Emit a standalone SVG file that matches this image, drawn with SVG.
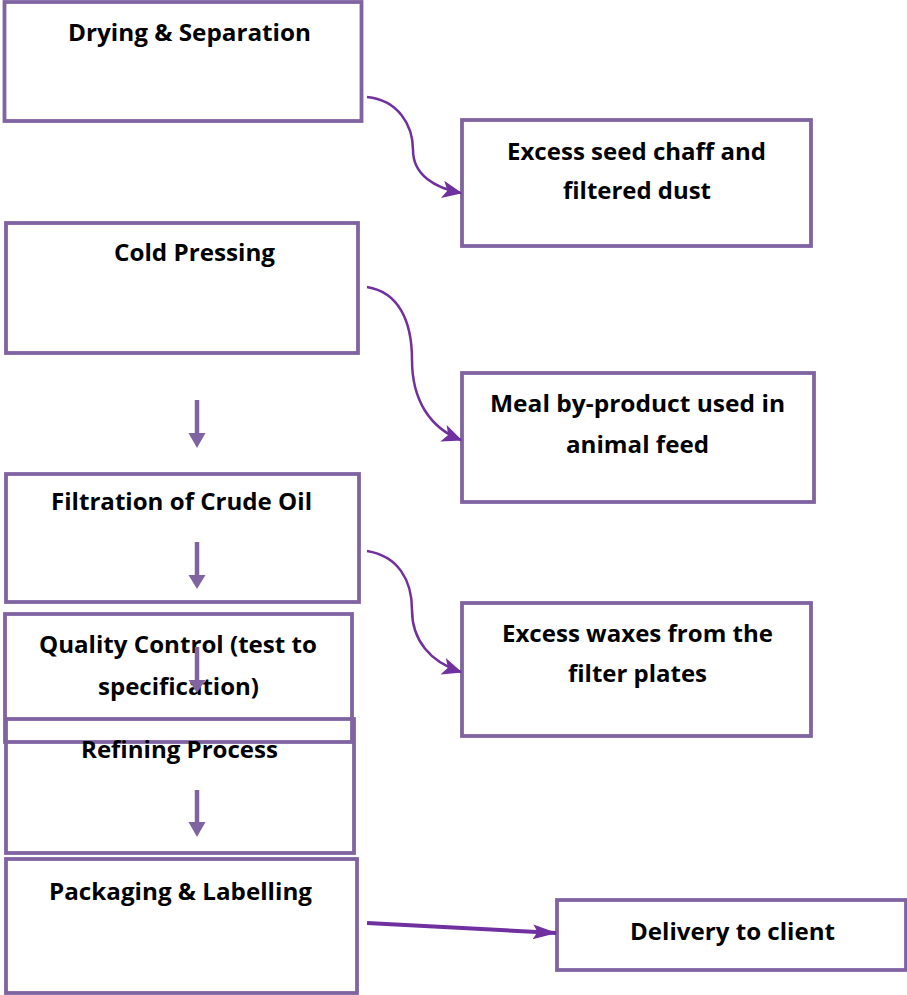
<svg xmlns="http://www.w3.org/2000/svg" width="907" height="995" viewBox="0 0 907 995">
<style>
.box{fill:none;stroke:#8064A2;stroke-width:3.8}
.t{font-family:"Open Sans","Liberation Sans",Arial,sans-serif;font-weight:bold;font-size:23px;fill:#000;text-anchor:start}
.down{stroke:#8064A2;stroke-width:4.5;fill:none}
.head{fill:#8064A2}
.curve{fill:none;stroke:#7030A0;stroke-width:2.5;marker-end:url(#ah)}
.straight{fill:none;stroke:#7030A0;stroke-width:4;marker-end:url(#ah2)}
</style>
<defs>
<marker id="ah" markerUnits="userSpaceOnUse" markerWidth="20" markerHeight="20" refX="15" refY="7" orient="auto" viewBox="0 0 16 14">
<path d="M0,0 L16,7 L0,14 L4,7 Z" fill="#7030A0"/>
</marker>
<marker id="ah2" markerUnits="userSpaceOnUse" markerWidth="24" markerHeight="20" refX="25" refY="8" orient="auto" viewBox="0 0 26 16">
<path d="M0,0 L26,8 L0,16 L5,8 Z" fill="#7030A0"/>
</marker>
</defs>
<rect width="907" height="995" fill="#fff"/>

<g id="n1"><rect class="box" x="4.5" y="2" width="357" height="119"/>
<text class="t" x="68" y="41" textLength="243" lengthAdjust="spacingAndGlyphs">Drying &amp; Separation</text></g>

<g id="n2"><rect class="box" x="462" y="120" width="349" height="126"/>
<text class="t" x="507" y="160" textLength="259" lengthAdjust="spacingAndGlyphs">Excess seed chaff and</text>
<text class="t" x="563" y="199" textLength="148" lengthAdjust="spacingAndGlyphs">filtered dust</text></g>

<g id="n3"><rect class="box" x="6" y="223" width="352" height="130"/>
<text class="t" x="114" y="261" textLength="161" lengthAdjust="spacingAndGlyphs">Cold Pressing</text></g>

<g id="n4"><rect class="box" x="462" y="373" width="352" height="129"/>
<text class="t" x="490" y="412" textLength="295" lengthAdjust="spacingAndGlyphs">Meal by-product used in</text>
<text class="t" x="566" y="453" textLength="143" lengthAdjust="spacingAndGlyphs">animal feed</text></g>

<g id="n5"><rect class="box" x="6" y="474" width="353" height="128"/>
<text class="t" x="51" y="510" textLength="261" lengthAdjust="spacingAndGlyphs">Filtration of Crude Oil</text></g>

<g id="n6"><rect class="box" x="462" y="603" width="349" height="133"/>
<text class="t" x="502" y="642" textLength="271" lengthAdjust="spacingAndGlyphs">Excess waxes from the</text>
<text class="t" x="568" y="682" textLength="139" lengthAdjust="spacingAndGlyphs">filter plates</text></g>

<g id="n7"><rect class="box" x="5" y="614" width="347" height="128"/>
<text class="t" x="39" y="653" textLength="278" lengthAdjust="spacingAndGlyphs">Quality Control (test to</text>
<text class="t" x="98" y="695" textLength="161" lengthAdjust="spacingAndGlyphs">specification)</text></g>

<g id="n8"><rect class="box" x="6" y="719" width="348" height="134"/>
<text class="t" x="81" y="758" textLength="197" lengthAdjust="spacingAndGlyphs">Refining Process</text></g>

<g id="n9"><rect class="box" x="6" y="859" width="351" height="134"/>
<text class="t" x="49" y="900" textLength="263" lengthAdjust="spacingAndGlyphs">Packaging &amp; Labelling</text></g>

<g id="n10"><rect class="box" x="557" y="900" width="349" height="70"/>
<text class="t" x="630" y="940" textLength="205" lengthAdjust="spacingAndGlyphs">Delivery to client</text></g>

<g id="connectors">
<line class="down" x1="197" y1="400" x2="197" y2="434"/><polygon class="head" points="188.5,433 205.5,433 197,448"/>
<line class="down" x1="197" y1="542" x2="197" y2="576"/><polygon class="head" points="188.5,575 205.5,575 197,589"/>
<line class="down" x1="197" y1="647" x2="197" y2="681"/><polygon class="head" points="188.5,680 205.5,680 197,693"/>
<line class="down" x1="197" y1="790" x2="197" y2="823"/><polygon class="head" points="188.5,822 205.5,822 197,837"/>
<path class="curve" d="M367,97 C398,100 413,125 413,150 C413,175 435,188 461,193"/>
<path class="curve" d="M367,287 C398,292 412,320 412,360 C412,400 430,428 461,440"/>
<path class="curve" d="M367,551 C398,556 412,580 412,610 C412,640 430,662 461,672"/>
<path class="straight" d="M367,923 L556,933"/>
</g>
</svg>
